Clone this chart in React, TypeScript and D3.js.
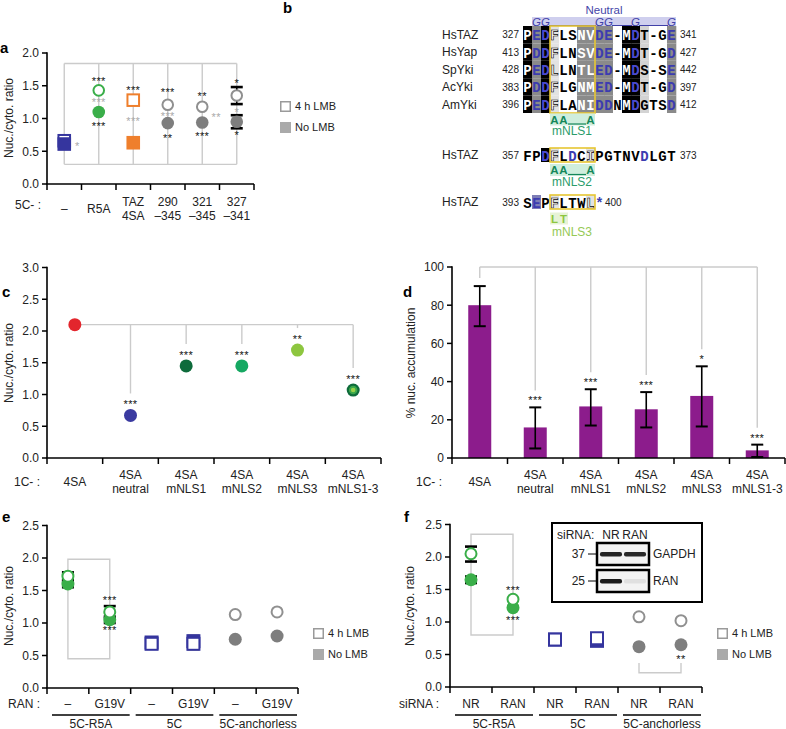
import React from "react";
import * as d3 from "d3";

const FONT = "'Liberation Sans', Arial, Helvetica, sans-serif";
const MONO = "'Liberation Mono', 'Courier New', monospace";

const BLUE = "#35359e";
const GREEN = "#3aae49";
const ORANGE = "#ef7f2c";
const GRAY = "#7e7e7e";
const GRAY_OPEN = "#909090";
const COMB = "#cbcbcb";
const STAR_GRAY = "#a9a9a9";

// ---------------- panel a data
const aCategories = [["–"], ["R5A"], ["TAZ", "4SA"], ["290", "–345"], ["321", "–345"], ["327", "–341"]];
const aShapes = ["square", "circle", "square", "circle", "circle", "circle"];
const aColors = [BLUE, GREEN, ORANGE, GRAY, GRAY, GRAY];
const aLMB = [0.66, 1.43, 1.28, 1.21, 1.18, 1.35];
const aNoLMB = [0.61, 1.1, 0.63, 0.93, 0.94, 0.95];
const aLMBErr = [null, null, null, null, null, [1.22, 1.48]];
const aNoLMBErr = [null, null, null, null, null, [0.85, 1.05]];
const aStarsTop = ["", "***", "***", "***", "**", "*"];
const aStarsTopY = [0, 1.61, 1.46, 1.43, 1.37, 1.58];
const aStarsMid = ["*", "***", "***", "***", "**", "*"];
const aStarsMidY = [0.61, 1.28, 0.99, 1.07, 1.05, 1.13];
const aStarsMidDx = [13, 0, 0, 0, 14, 0];
const aStarsBot = ["", "***", "", "**", "***", "*"];
const aStarsBotY = [0, 0.91, 0, 0.73, 0.76, 0.78];
const aComb = [0.3, 1.84];
const aTicks = [0, 0.5, 1, 1.5, 2];

// ---------------- panel b data
const bSpecies = ["HsTAZ", "HsYap", "SpYki", "AcYki", "AmYki"];
const bStart = [327, 413, 428, 383, 396];
const bEnd = [341, 427, 442, 397, 412];
const bSeqs = [
  "PEDFLSNVDE-MDT-GE",
  "PDDFLNSVDE-MDT-GD",
  "PEDLLNTLED-MDS-SE",
  "PDDFLGNMED-MDT-GD",
  "PEDFLANIDDNMDGTSD",
];
const bShade = "KGKOWWGGGGWKKLWWG";
const bNeutralCols = [1, 2, 8, 9, 12, 16];
const b2Seq = "FPDFLDCIPGTNVDLGT";
const b2Shade = "WWKOWWWOWWWWWWWWW";
const b2Range = [357, 373];
const b3Seq = "SEPFLTWL*";
const b3Shade = "WPWOWWWOW";
const b3Range = [393, 400];
const mNLS1 = "AA__A";
const mNLS2 = "AA__A";
const mNLS3 = "LT";

// ---------------- panel c data
const cCategories = [["4SA"], ["4SA", "neutral"], ["4SA", "mNLS1"], ["4SA", "mNLS2"], ["4SA", "mNLS3"], ["4SA", "mNLS1-3"]];
const cValues = [2.1, 0.67, 1.45, 1.45, 1.7, 1.07];
const cColors = ["#e3262d", "#3a3aa0", "#0e6b3b", "#16a862", "#8dc63f", "#0e6b3b"];
const cStars = ["", "***", "***", "***", "**", "***"];
const cTicks = [0, 0.5, 1, 1.5, 2, 2.5, 3];

// ---------------- panel d data
const dValues = [80, 16, 27, 25.5, 32.5, 4];
const dErrLow = [69, 5, 17, 16, 16.5, 0.5];
const dErrHigh = [90, 26.5, 36, 34.5, 48, 7];
const dStars = ["", "***", "***", "***", "*", "***"];
const dTicks = [0, 20, 40, 60, 80, 100];

// ---------------- panel e data
const eCategories = [["–"], ["G19V"], ["–"], ["G19V"], ["–"], ["G19V"]];
const eGroups = ["5C-R5A", "5C", "5C-anchorless"];
const eLMB = [1.72, 1.17, 0.68, 0.68, 1.13, 1.17];
const eNoLMB = [1.6, 1.05, 0.7, 0.72, 0.75, 0.8];
const eLMBErr = [[1.66, 1.78], [1.08, 1.26], null, [0.6, 0.8], null, null];
const eNoLMBErr = [[1.55, 1.65], [1.0, 1.1], null, null, null, null];
const eStars = [{ i: 1, v: 1.38, t: "***" }, { i: 1, v: 0.92, t: "***" }];
const eBracket = [0.45, 1.98];

// ---------------- panel f data
const fCategories = [["NR"], ["RAN"], ["NR"], ["RAN"], ["NR"], ["RAN"]];
const fGroups = ["5C-R5A", "5C", "5C-anchorless"];
const fLMB = [2.05, 1.35, 0.73, 0.75, 1.08, 1.02];
const fNoLMB = [1.65, 1.22, 0.73, 0.71, 0.62, 0.65];
const fLMBErr = [[1.93, 2.16], null, null, null, null, null];
const fNoLMBErr = [[1.6, 1.7], null, null, null, null, null];
const fStars = [{ i: 1, v: 1.52, t: "***" }, { i: 1, v: 1.06, t: "***" }, { i: 5, v: 0.46, t: "**" }];
const fBracket = [0.8, 2.35];
const fBracketLow = [0.22, 0.37];
const blotLanes = ["NR", "RAN"];
const blotGapdh = [0.92, 0.9];
const blotRan = [0.95, 0.22];

const tickTicks = [0, 0.5, 1, 1.5, 2, 2.5];
const fmt1 = (t: number) => t.toFixed(1);
const fmt0 = (t: number) => String(t);

function Axes({ xs, y, ticks, fmt }: any) {
  const [x0, x1] = xs.range();
  const y0 = y(0);
  const yTop = y(y.domain()[1]);
  const step = xs.step();
  const n = xs.domain().length;
  return (
    <g>
      <line x1={x0} x2={x0} y1={yTop - 0.75} y2={y0} stroke="#000" strokeWidth={1.6} />
      <line x1={x0 - 0.8} x2={x1} y1={y0} y2={y0} stroke="#000" strokeWidth={1.6} />
      {ticks.map((t: number) => (
        <g key={t}>
          <line x1={x0 - 5} x2={x0} y1={y(t)} y2={y(t)} stroke="#000" strokeWidth={1.5} />
          <text x={x0 - 8} y={y(t)} dy="0.36em" textAnchor="end" fontSize={12} fill="#222">
            {fmt(t)}
          </text>
        </g>
      ))}
      {d3.range(n + 1).map((i) => (
        <line key={i} x1={x0 + i * step} x2={x0 + i * step} y1={y0} y2={y0 + 6} stroke="#000" strokeWidth={1.5} />
      ))}
    </g>
  );
}

function CatLabels({ xs, cats, yc, prefix, prefixX, prefixY }: any) {
  return (
    <g fontSize={12} fill="#222">
      {cats.map((lines: string[], i: number) => {
        const cx = xs(i) + xs.bandwidth() / 2;
        return (
          <text key={i} textAnchor="middle">
            {lines.map((l, j) => (
              <tspan key={j} x={cx} y={yc + (j - (lines.length - 1) / 2) * 14} dy="0.36em">
                {l}
              </tspan>
            ))}
          </text>
        );
      })}
      <text x={prefixX} y={prefixY ?? yc} dy="0.36em" textAnchor="end">
        {prefix}
      </text>
    </g>
  );
}

function YTitle({ x, y, text }: any) {
  return (
    <text transform={`translate(${x},${y}) rotate(-90)`} textAnchor="middle" fontSize={12} fill="#222">
      {text}
    </text>
  );
}

function Mark({ shape, x, y, color, filled, r = 6.3 }: any) {
  if (shape === "circle") {
    return filled ? (
      <circle cx={x} cy={y} r={r} fill={color} />
    ) : (
      <circle cx={x} cy={y} r={r - 1} fill="#fff" stroke={color} strokeWidth={2} />
    );
  }
  const s = filled ? 2 * r + 1 : 2 * r - 1;
  return filled ? (
    <rect x={x - s / 2} y={y - s / 2} width={s} height={s} fill={color} />
  ) : (
    <rect x={x - s / 2} y={y - s / 2} width={s} height={s} fill="#fff" stroke={color} strokeWidth={2} />
  );
}

function Err({ x, y1, y2, w = 12 }: any) {
  return (
    <g stroke="#000">
      <line x1={x} x2={x} y1={y1} y2={y2} strokeWidth={1.5} />
      <line x1={x - w / 2} x2={x + w / 2} y1={y1} y2={y1} strokeWidth={2.6} />
      <line x1={x - w / 2} x2={x + w / 2} y1={y2} y2={y2} strokeWidth={2.6} />
    </g>
  );
}

function Stars({ x, y, text, color = "#111" }: any) {
  return (
    <text x={x} y={y + 6} textAnchor="middle" fontSize={11} fill={color} letterSpacing={0.4}>
      {text}
    </text>
  );
}

function Legend({ x, y }: any) {
  return (
    <g fontSize={11} fill="#222">
      <rect x={x + 0.75} y={y + 0.75} width={9.5} height={9.5} fill="#fff" stroke="#9a9a9a" strokeWidth={1.5} />
      <text x={x + 15} y={y + 5} dy="0.36em">4 h LMB</text>
      <rect x={x} y={y + 21} width={11} height={11} fill="#aaaaaa" />
      <text x={x + 15} y={y + 26.5} dy="0.36em">No LMB</text>
    </g>
  );
}

function PanelLetter({ x, y, t }: any) {
  return (
    <text x={x} y={y} fontSize={15} fontWeight="bold" fill="#000">
      {t}
    </text>
  );
}

// ---------------- Panel a
function PanelA() {
  const xs = d3.scaleBand<number>().domain(d3.range(aCategories.length)).range([47, 254]);
  const y = d3.scaleLinear().domain([0, 2]).range([184, 53]);
  const cx = (i: number) => xs(i)! + xs.bandwidth() / 2;
  return (
    <g>
      <PanelLetter x={0} y={53} t="a" />
      <YTitle x={13} y={118} text="Nuc./cyto. ratio" />
      <g stroke={COMB} strokeWidth={1.4} fill="none">
        <line x1={cx(0)} x2={cx(5)} y1={y(aComb[1])} y2={y(aComb[1])} />
        <line x1={cx(0)} x2={cx(5)} y1={y(aComb[0])} y2={y(aComb[0])} />
        {aCategories.map((_, i) => (
          <line key={i} x1={cx(i)} x2={cx(i)} y1={y(aComb[1])} y2={y(aComb[0])} />
        ))}
      </g>
      <Axes xs={xs} y={y} ticks={aTicks} fmt={fmt1} />
      <CatLabels xs={xs} cats={aCategories} yc={208.5} prefix="5C- :" prefixX={41} prefixY={205} />
      {aCategories.map((_, i) => (
        <g key={i}>
          {aLMBErr[i] && <Err x={cx(i)} y1={y(aLMBErr[i]![0])} y2={y(aLMBErr[i]![1])} />}
          {aNoLMBErr[i] && <Err x={cx(i)} y1={y(aNoLMBErr[i]![0])} y2={y(aNoLMBErr[i]![1])} />}
          <Mark shape={aShapes[i]} x={cx(i)} y={y(aLMB[i])} color={aColors[i] === GRAY ? GRAY_OPEN : aColors[i]} filled={false} />
          <Mark shape={aShapes[i]} x={cx(i)} y={y(aNoLMB[i])} color={aColors[i]} filled={true} />
          {aStarsTop[i] && <Stars x={cx(i)} y={y(aStarsTopY[i])} text={aStarsTop[i]} />}
          {aStarsMid[i] && <Stars x={cx(i) + aStarsMidDx[i]} y={y(aStarsMidY[i])} text={aStarsMid[i]} color={STAR_GRAY} />}
          {aStarsBot[i] && <Stars x={cx(i)} y={y(aStarsBotY[i])} text={aStarsBot[i]} />}
        </g>
      ))}
      <Legend x={280} y={101} />
    </g>
  );
}

// ---------------- Panel b
const SHADE: Record<string, string> = {
  K: "#000000",
  G: "#8a8a8a",
  L: "#d3d3d3",
  W: "#ffffff",
  O: "#e2e2e2",
  P: "#7d7db6",
};

function Residue({ ch, code, x, y }: any) {
  const acid = ch === "D" || ch === "E" || ch === "*";
  let fill = "#000";
  let stroke = "none";
  if (acid) fill = code === "K" ? "#4a4ad0" : "#3c3cb0";
  else if (code === "K" || code === "G") fill = "#fff";
  else if (code === "O") {
    fill = "#fff";
    stroke = "#000";
  }
  return (
    <text
      x={x}
      y={y}
      dy="0.36em"
      textAnchor="middle"
      fontFamily={MONO}
      fontWeight="bold"
      fontSize={14}
      fill={fill}
      stroke={stroke}
      strokeWidth={stroke === "none" ? 0 : 0.6}
    >
      {ch}
    </text>
  );
}

function SeqRow({ seq, shade, yc, h, bx }: any) {
  const w = bx.bandwidth();
  return (
    <g>
      {seq.split("").map((ch: string, i: number) => (
        <rect key={"r" + i} x={bx(i)} y={yc - h / 2} width={w + 0.3} height={h} fill={SHADE[shade[i]]} />
      ))}
      {seq.split("").map((ch: string, i: number) => (
        <Residue key={"t" + i} ch={ch} code={shade[i]} x={bx(i) + w / 2} y={yc + 0.5} />
      ))}
    </g>
  );
}

function Mutation({ text, bx, yc, band, color }: any) {
  const w = bx.bandwidth();
  const chars = text.split("");
  const x0 = bx(3);
  const x1 = bx(3 + chars.length - 1) + w;
  return (
    <g>
      <rect x={x0} y={yc - 6} width={x1 - x0} height={12} fill={band} />
      {chars.map((c: string, i: number) =>
        c === "_" ? (
          <line key={i} x1={bx(3 + i)} x2={bx(3 + i) + w} y1={yc + 4.5} y2={yc + 4.5} stroke={color} strokeWidth={1.2} />
        ) : (
          <text key={i} x={bx(3 + i) + w / 2} y={yc} dy="0.36em" textAnchor="middle" fontSize={11.5} fontWeight="bold" fill={color}>
            {c}
          </text>
        )
      )}
    </g>
  );
}

function PanelB() {
  const bx = d3.scaleBand<number>().domain(d3.range(17)).range([523, 676]);
  const by = d3.scaleBand<string>().domain(bSpecies).range([26, 113]);
  const w = bx.bandwidth();
  const rc = (s: string) => by(s)! + by.bandwidth() / 2;
  const gLineSegs: [number, number][] = [];
  for (let k = 0; k < bNeutralCols.length - 1; k++) {
    const a = bNeutralCols[k];
    const b = bNeutralCols[k + 1];
    if (b - a > 1) gLineSegs.push([bx(a)! + w - 1, bx(b)! + 1]);
  }
  const row2y = 155;
  const row3y = 202;
  return (
    <g>
      <PanelLetter x={283} y={13} t="b" />
      <text x={604} y={14} textAnchor="middle" fontSize={11.5} fill="#4545a8">Neutral</text>
      <rect x={bx(1)} y={17} width={bx(16)! + w - bx(1)!} height={9.5} fill="#cfcfee" />
      {bNeutralCols.map((c) => (
        <text key={c} x={bx(c)! + w / 2} y={25.5} textAnchor="middle" fontSize={11.5} fontStyle="italic" fill="#4040a8">
          G
        </text>
      ))}
      {gLineSegs.map(([a, b], k) => (
        <line key={k} x1={a} x2={b} y1={25.5} y2={25.5} stroke="#4040a8" strokeWidth={1} />
      ))}
      {bSpecies.map((s, r) => (
        <g key={s}>
          <text x={442} y={rc(s)} dy="0.36em" fontSize={12} fill="#222">{s}</text>
          <text x={519} y={rc(s)} dy="0.36em" textAnchor="end" fontSize={10} fill="#222">{bStart[r]}</text>
          <SeqRow seq={bSeqs[r]} shade={bShade} yc={rc(s)} h={by.bandwidth()} bx={bx} />
          <text x={680} y={rc(s)} dy="0.36em" fontSize={10} fill="#222">{bEnd[r]}</text>
        </g>
      ))}
      <rect x={bx(3)} y={26} width={bx(7)! + w - bx(3)!} height={87} fill="none" stroke="#e6c632" strokeWidth={1.6} />
      <Mutation text={mNLS1} bx={bx} yc={119.5} band="#cfeedd" color="#14875a" />
      <text x={552} y={135} fontSize={12} fill="#2a9c6a">mNLS1</text>

      <text x={442} y={row2y} dy="0.36em" fontSize={12} fill="#222">HsTAZ</text>
      <text x={519} y={row2y} dy="0.36em" textAnchor="end" fontSize={10} fill="#222">{b2Range[0]}</text>
      <SeqRow seq={b2Seq} shade={b2Shade} yc={row2y} h={14} bx={bx} />
      <text x={680} y={row2y} dy="0.36em" fontSize={10} fill="#222">{b2Range[1]}</text>
      <rect x={bx(3)} y={row2y - 7} width={bx(7)! + w - bx(3)!} height={14} fill="none" stroke="#e6c632" strokeWidth={1.6} />
      <Mutation text={mNLS2} bx={bx} yc={170} band="#cfeedd" color="#14875a" />
      <text x={552} y={185.5} fontSize={12} fill="#2a9c6a">mNLS2</text>

      <text x={442} y={row3y} dy="0.36em" fontSize={12} fill="#222">HsTAZ</text>
      <text x={519} y={row3y} dy="0.36em" textAnchor="end" fontSize={10} fill="#222">{b3Range[0]}</text>
      <SeqRow seq={b3Seq} shade={b3Shade} yc={row3y} h={14} bx={bx} />
      <text x={bx(b3Seq.length)! + 1} y={row3y} dy="0.36em" fontSize={10} fill="#222">{b3Range[1]}</text>
      <rect x={bx(3)} y={row3y - 7} width={bx(7)! + w - bx(3)!} height={14} fill="none" stroke="#e6c632" strokeWidth={1.6} />
      <Mutation text={mNLS3} bx={bx} yc={218.5} band="#e7f3d6" color="#8dc63f" />
      <text x={552} y={236} fontSize={12} fill="#95c955">mNLS3</text>
    </g>
  );
}

// ---------------- Panel c
function PanelC() {
  const xs = d3.scaleBand<number>().domain(d3.range(cCategories.length)).range([47, 381]);
  const y = d3.scaleLinear().domain([0, 3]).range([458, 267.5]);
  const cx = (i: number) => xs(i)! + xs.bandwidth() / 2;
  const top = y(cValues[0]);
  return (
    <g>
      <PanelLetter x={2} y={297} t="c" />
      <YTitle x={13} y={363} text="Nuc./cyto. ratio" />
      <g stroke={COMB} strokeWidth={1.4}>
        <line x1={cx(0)} x2={cx(cValues.length - 1)} y1={top} y2={top} />
        {cValues.map((v, i) =>
          i === 0 ? null : <line key={i} x1={cx(i)} x2={cx(i)} y1={top} y2={y(v) - 22} />
        )}
      </g>
      <Axes xs={xs} y={y} ticks={cTicks} fmt={fmt1} />
      <CatLabels xs={xs} cats={cCategories} yc={482} prefix="1C- :" prefixX={40} />
      {cValues.map((v, i) => (
        <g key={i}>
          {i === cValues.length - 1 ? (
            <g>
              <circle cx={cx(i)} cy={y(v)} r={6.5} fill={cColors[i]} />
              <circle cx={cx(i)} cy={y(v)} r={4.3} fill="#3aa84a" />
              <circle cx={cx(i)} cy={y(v)} r={2.3} fill="#9ad14a" />
            </g>
          ) : (
            <circle cx={cx(i)} cy={y(v)} r={6.5} fill={cColors[i]} />
          )}
          {cStars[i] && <Stars x={cx(i)} y={y(v) - 13} text={cStars[i]} />}
        </g>
      ))}
    </g>
  );
}

// ---------------- Panel d
function PanelD() {
  const xs = d3.scaleBand<number>().domain(d3.range(cCategories.length)).range([452, 785]);
  const y = d3.scaleLinear().domain([0, 100]).range([458, 267]);
  const cx = (i: number) => xs(i)! + xs.bandwidth() / 2;
  const bw = 23;
  return (
    <g>
      <PanelLetter x={403} y={297} t="d" />
      <YTitle x={415} y={363} text="% nuc. accumulation" />
      <g stroke={COMB} strokeWidth={1.4}>
        <line x1={cx(0)} x2={cx(dValues.length - 1)} y1={y(100)} y2={y(100)} />
        {dValues.map((_, i) => (
          <line key={i} x1={cx(i)} x2={cx(i)} y1={y(100)} y2={y(dErrHigh[i]) - (dStars[i] ? 17 : 8)} />
        ))}
      </g>
      {dValues.map((v, i) => (
        <rect key={i} x={cx(i) - bw / 2} y={y(v)} width={bw} height={y(0) - y(v)} fill="#8c1c8c" />
      ))}
      <Axes xs={xs} y={y} ticks={dTicks} fmt={fmt0} />
      <CatLabels xs={xs} cats={cCategories} yc={482} prefix="1C- :" prefixX={442} />
      {dValues.map((_, i) => (
        <g key={i}>
          <g stroke="#000">
            <line x1={cx(i)} x2={cx(i)} y1={y(dErrLow[i])} y2={y(dErrHigh[i])} strokeWidth={1.6} />
            <line x1={cx(i) - 6} x2={cx(i) + 6} y1={y(dErrLow[i])} y2={y(dErrLow[i])} strokeWidth={2} />
            <line x1={cx(i) - 6} x2={cx(i) + 6} y1={y(dErrHigh[i])} y2={y(dErrHigh[i])} strokeWidth={2} />
          </g>
          {dStars[i] && <Stars x={cx(i)} y={y(dErrHigh[i]) - 9} text={dStars[i]} />}
        </g>
      ))}
    </g>
  );
}

// ---------------- Panels e & f
function PairPanel({ x0, x1, y0, letter, letterX, titleX, cats, groups, lmb, nolmb, lmbErr, nolmbErr, stars, prefix, prefixX, legendX, children, bracket, bracketLow }: any) {
  const xs = d3.scaleBand<number>().domain(d3.range(cats.length)).range([x0, x1]);
  const y = d3.scaleLinear().domain([0, 2.5]).range([y0, y0 - 162.5]);
  const cx = (i: number) => xs(i)! + xs.bandwidth() / 2;
  const shapes = ["circle", "circle", "square", "square", "circle", "circle"];
  const filledCols = [GREEN, GREEN, BLUE, BLUE, GRAY, GRAY];
  const openCols = [GREEN, GREEN, BLUE, BLUE, GRAY_OPEN, GRAY_OPEN];
  return (
    <g>
      <PanelLetter x={letterX} y={522} t={letter} />
      <YTitle x={titleX} y={606} text="Nuc./cyto. ratio" />
      <g stroke={COMB} strokeWidth={1.4} fill="none">
        <path d={`M${cx(0)},${y(bracket[0])}V${y(bracket[1])}H${cx(1)}V${y(bracket[0])}Z`} />
        {bracketLow && (
          <path d={`M${cx(4)},${y(bracketLow[1])}V${y(bracketLow[0])}H${cx(5)}V${y(bracketLow[1])}`} />
        )}
      </g>
      <Axes xs={xs} y={y} ticks={tickTicks} fmt={fmt1} />
      <CatLabels xs={xs} cats={cats} yc={704} prefix={prefix} prefixX={prefixX} />
      {groups.map((g: string, k: number) => {
        const a = xs(2 * k)!;
        const b = xs(2 * k + 1)! + xs.bandwidth();
        return (
          <g key={g}>
            <line x1={a + 5} x2={b - 1} y1={715} y2={715} stroke="#000" strokeWidth={1.4} />
            <text x={(a + b) / 2 + 2} y={727.5} textAnchor="middle" fontSize={12} fill="#222">{g}</text>
          </g>
        );
      })}
      {cats.map((_: any, i: number) => (
        <g key={i}>
          {lmbErr[i] && <Err x={cx(i)} y1={y(lmbErr[i][0])} y2={y(lmbErr[i][1])} />}
          {nolmbErr[i] && <Err x={cx(i)} y1={y(nolmbErr[i][0])} y2={y(nolmbErr[i][1])} />}
          <Mark shape={shapes[i]} x={cx(i)} y={y(nolmb[i])} color={filledCols[i]} filled={true} r={6.5} />
          <Mark shape={shapes[i]} x={cx(i)} y={y(lmb[i])} color={openCols[i]} filled={false} r={6.5} />
        </g>
      ))}
      {stars.map((s: any, k: number) => (
        <Stars key={k} x={cx(s.i)} y={y(s.v)} text={s.t} />
      ))}
      <Legend x={legendX} y={628} />
      {children}
    </g>
  );
}

function Blot() {
  const lx = d3.scaleBand<string>().domain(blotLanes).range([598, 648]).padding(0.08);
  return (
    <g fontSize={12} fill="#222">
      <rect x={552} y={523} width={150} height={79} fill="#fff" stroke="#000" strokeWidth={2} />
      <text x={557} y={535} dy="0.36em">siRNA:</text>
      {blotLanes.map((l) => (
        <text key={l} x={lx(l)! + lx.bandwidth() / 2} y={535} dy="0.36em" textAnchor="middle">{l}</text>
      ))}
      {[
        { y: 543, vals: blotGapdh, name: "GAPDH", mw: "37" },
        { y: 570, vals: blotRan, name: "RAN", mw: "25" },
      ].map((b) => (
        <g key={b.name}>
          <rect x={597} y={b.y} width={52} height={22} fill="#f3f3f3" stroke="#000" strokeWidth={2.5} />
          {blotLanes.map((l, k) => (
            <rect
              key={l}
              x={lx(l)!}
              y={b.y + 9}
              width={lx.bandwidth()}
              height={4.5}
              rx={2}
              fill={d3.interpolateGreys(b.vals[k])}
              opacity={0.95}
            />
          ))}
          <text x={585} y={b.y + 11} dy="0.36em" textAnchor="end">{b.mw}</text>
          <line x1={588} x2={596} y1={b.y + 11} y2={b.y + 11} stroke="#000" strokeWidth={1} />
          <text x={653} y={b.y + 11} dy="0.36em">{b.name}</text>
        </g>
      ))}
    </g>
  );
}

export default function App() {
  return (
    <svg
      width={786}
      height={729}
      viewBox="0 0 786 729"
      style={{ position: "absolute", left: 0, top: 0, background: "#fff" }}
      fontFamily={FONT}
    >
      <rect width={786} height={729} fill="#fff" />
      <PanelA />
      <PanelB />
      <PanelC />
      <PanelD />
      <PairPanel
        x0={47}
        x1={298}
        y0={688}
        letter="e"
        letterX={2}
        titleX={13}
        cats={eCategories}
        groups={eGroups}
        lmb={eLMB}
        nolmb={eNoLMB}
        lmbErr={eLMBErr}
        nolmbErr={eNoLMBErr}
        stars={eStars}
        prefix="RAN :"
        prefixX={40}
        legendX={313}
        bracket={eBracket}
      />
      <PairPanel
        x0={450}
        x1={702}
        y0={687}
        letter="f"
        letterX={404}
        titleX={414}
        cats={fCategories}
        groups={fGroups}
        lmb={fLMB}
        nolmb={fNoLMB}
        lmbErr={fLMBErr}
        nolmbErr={fNoLMBErr}
        stars={fStars}
        prefix="siRNA :"
        prefixX={439}
        legendX={717}
        bracket={fBracket}
        bracketLow={fBracketLow}
      >
        <Blot />
      </PairPanel>
    </svg>
  );
}
